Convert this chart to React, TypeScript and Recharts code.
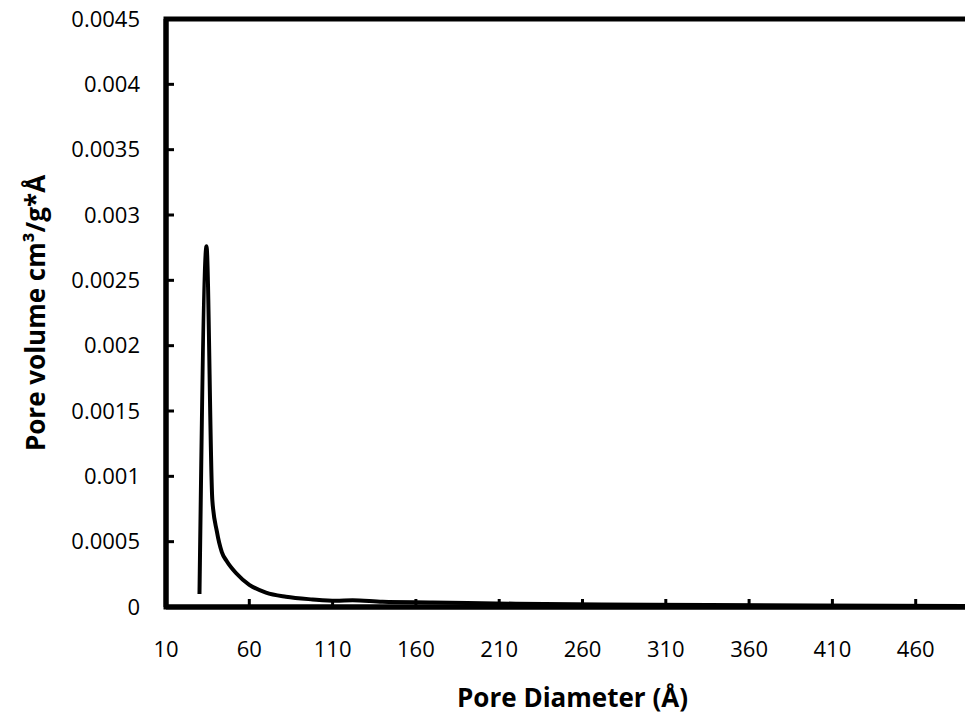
import React from "react";
import {
  LineChart,
  Line,
  XAxis,
  YAxis,
  ReferenceArea,
  Label,
} from "recharts";

// pore size distribution
const poreDiameter = [30.1, 34.3, 37.8, 40.5, 43.5, 46.5, 52, 60, 70, 82, 98, 112, 122, 140, 170, 220, 300, 400, 500];
const poreVolume = [
  0.0001, 0.00276, 0.00082, 0.00058, 0.00042, 0.00035, 0.00026, 0.00017, 0.00011, 0.000078,
  0.000058, 0.000048, 0.000052, 0.00004, 0.000035, 0.000025, 0.000018, 0.000012, 0.000008,
];
const xTicks = [10, 60, 110, 160, 210, 260, 310, 360, 410, 460];
const yTicks = [0, 0.0005, 0.001, 0.0015, 0.002, 0.0025, 0.003, 0.0035, 0.004, 0.0045];

const chartData = poreDiameter.map((d, i) => ({ d, v: poreVolume[i] }));

const font = "'Open Sans', 'Noto Sans', sans-serif";

const XTitle = (props: any) => {
  const { viewBox } = props;
  const cx = viewBox.x + viewBox.width / 2 - 10;
  return (
    <text x={cx} y={viewBox.y + 100} textAnchor="middle" fontFamily={font} fontSize={26} fontWeight="bold" fill="#000">
      Pore Diameter (Å)
    </text>
  );
};

const YTitle = (props: any) => {
  const { viewBox } = props;
  const cx = 27;
  const cy = viewBox.y + viewBox.height / 2;
  return (
    <text
      x={cx}
      y={cy}
      transform={`rotate(-90, ${cx}, ${cy})`}
      textAnchor="middle"
      dominantBaseline="central"
      fontFamily={font}
      fontSize={26}
      fontWeight="bold"
      fill="#000"
    >
      Pore volume cm³/g*Å
    </text>
  );
};

export default function App() {
  return (
    <div style={{ width: 965, overflow: "hidden", marginTop: -8 }}>
      <LineChart width={1010} height={716} data={chartData} margin={{ top: 19, right: 19, bottom: 0, left: 0 }}>
        <XAxis
          dataKey="d"
          type="number"
          domain={[10, 510]}
          ticks={xTicks}
          allowDataOverflow
          height={109}
          axisLine={{ stroke: "#000", strokeWidth: 5 }}
          tickLine={{ stroke: "#000", strokeWidth: 3 }}
          tickSize={-8}
          tickMargin={42}
          tick={{ fill: "#000", fontSize: 22, fontFamily: font }}
        >
          <Label content={<XTitle />} />
        </XAxis>
        <YAxis
          type="number"
          domain={[0, 0.0045]}
          ticks={yTicks}
          allowDataOverflow
          width={158}
          axisLine={{ stroke: "#000", strokeWidth: 5 }}
          tickLine={{ stroke: "#000", strokeWidth: 3 }}
          tickSize={-8}
          tickMargin={34}
          tickFormatter={(v: number) => String(v)}
          tick={{ fill: "#000", fontSize: 22, fontFamily: font }}
        >
          <Label content={<YTitle />} />
        </YAxis>
        <ReferenceArea x1={10} x2={510} y1={0} y2={0.0045} fill="none" stroke="#000" strokeWidth={5} />
        <Line
          type="monotone"
          dataKey="v"
          stroke="#000"
          strokeWidth={4}
          dot={false}
          isAnimationActive={false}
        />
      </LineChart>
    </div>
  );
}
